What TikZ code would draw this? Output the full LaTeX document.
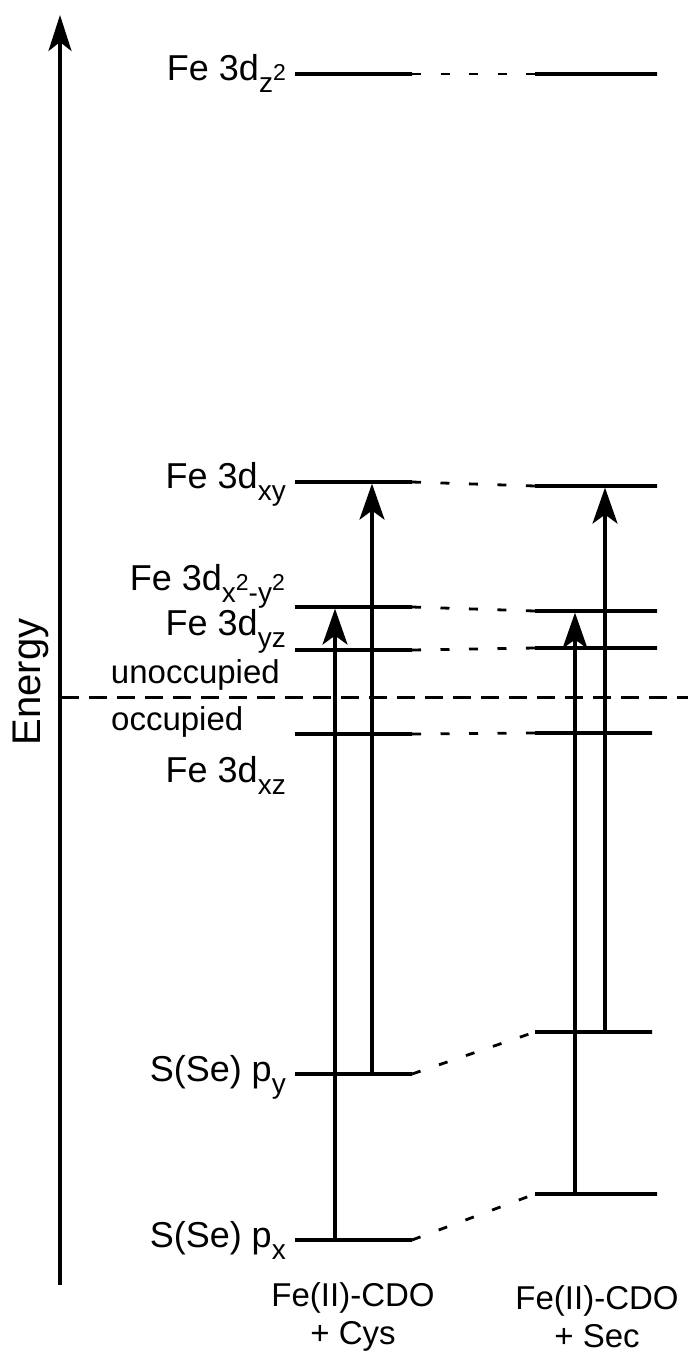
\documentclass[tikz,border=0pt]{standalone}
\usepackage{fontspec}
\setmainfont{Liberation Sans}
\usetikzlibrary{arrows.meta, positioning, calc}
\newcommand{\lsub}[1]{\raisebox{-12pt}{\fontsize{28}{28}\selectfont #1}}
\newcommand{\lsup}[1]{\raisebox{12pt}{\fontsize{23}{23}\selectfont #1}}
\tikzset{
  level/.style={draw=black, line width=3.2pt, rectangle, minimum width=117pt, minimum height=0pt, inner sep=0pt, outer sep=0pt},
  rlevel/.style={level, minimum width=122pt},
  link/.style={draw=black, line width=2.8pt, dash pattern=on 9pt off 19.5pt},
  divider/.style={draw=black, line width=3pt, dash pattern=on 18pt off 10pt},
  trans/.style={draw=black, line width=3.2pt, shorten >=1.6pt, -{Stealth[length=36pt, width=25pt, inset=9pt]}},
  axis/.style={draw=black, line width=3.2pt, -{Stealth[length=36pt, width=23pt, inset=9pt]}},
  lbl/.style={anchor=base east, inner sep=0pt, font=\fontsize{36}{40}\selectfont},
  slbl/.style={inner sep=0pt, font=\fontsize{33}{38}\selectfont},
  clbl/.style={align=center, inner sep=0pt, font=\fontsize{33}{38}\selectfont}
}
\begin{document}
\begin{tikzpicture}[x=1pt, y=-1pt]
  \useasboundingbox (0,0) rectangle (688,1357);
  % Energy axis
  \coordinate (axisB) at (60,1285);
  \coordinate (axisT) at (60,15);
  \draw [axis] (axisB) -- (axisT);
  \node [rotate=90, inner sep=0pt, font=\fontsize{40}{44}\selectfont] (energy) at (31,682) {Energy};

  % Fe(II)-CDO + Cys (left)
  \node [level] (cysz2) at (353.5,74) {};
  \node [level] (cysxy) at (353.5,482) {};
  \node [level] (cysx2y2) at (353.5,607) {};
  \node [level] (cysyz) at (353.5,650) {};
  \node [level] (cysxz) at (353.5,734) {};
  \node [level] (cyspy) at (353.5,1074) {};
  \node [level] (cyspx) at (353.5,1240) {};

  % Fe(II)-CDO + Sec (right)
  \node [rlevel] (secz2) at (596,74) {};
  \node [rlevel] (secxy) at (596,486) {};
  \node [rlevel] (secx2y2) at (596,611) {};
  \node [rlevel] (secyz) at (596,648) {};
  \node [level] (secxz) at (593.5,733) {};
  \node [level] (secpy) at (593.5,1032) {};
  \node [rlevel] (secpx) at (596,1194) {};

  % correlation lines
  \draw [link] (cysz2.east) -- (secz2.west);
  \draw [link] (cysxy.east) -- (secxy.west);
  \draw [link] (cysx2y2.east) -- (secx2y2.west);
  \draw [link] (cysyz.east) -- (secyz.west);
  \draw [link] (cysxz.east) -- (secxz.west);
  \draw [link] (cyspy.east) -- (secpy.west);
  \draw [link] (cyspx.east) -- (secpx.west);

  % occupied / unoccupied border
  \coordinate (divL) at (61,697);
  \coordinate (divR) at (688,697);
  \draw [divider] (divL) -- (divR);

  % transitions
  \draw [trans] ([xshift=40pt]cyspx.west) -- ([xshift=40pt]cysx2y2.west);
  \draw [trans] ([xshift=77pt]cyspy.west) -- ([xshift=77pt]cysxy.west);
  \draw [trans] ([xshift=40pt]secpx.west) -- ([xshift=40pt]secx2y2.west);
  \draw [trans] ([xshift=70pt]secpy.west) -- ([xshift=70pt]secxy.west);

  % level labels
  \node [lbl] (lz2) at (286,80) {Fe 3d\lsub{z\lsup{2}}};
  \node [lbl] (lxy) at (286,488) {Fe 3d\lsub{xy}};
  \node [lbl] (lx2y2) at (285,590) {Fe 3d\lsub{x\lsup{2}-y\lsup{2}}};
  \node [lbl] (lyz) at (286,635) {Fe 3d\lsub{yz}};
  \node [slbl, anchor=base east] (unocc) at (280,683) {unoccupied};
  \node [slbl, anchor=base west] (occ) at (111,730) {occupied};
  \node [lbl] (lxz) at (286,782) {Fe 3d\lsub{xz}};
  \node [lbl] (lpy) at (286,1081) {S(Se) p\lsub{y}};
  \node [lbl] (lpx) at (286,1247) {S(Se) p\lsub{x}};

  % column labels
  \node [clbl] (cys) at (353,1317) {Fe(II)-CDO\\+ Cys};
  \node [clbl] (sec) at (597,1317) {Fe(II)-CDO\\+ Sec};
\end{tikzpicture}
\end{document}
